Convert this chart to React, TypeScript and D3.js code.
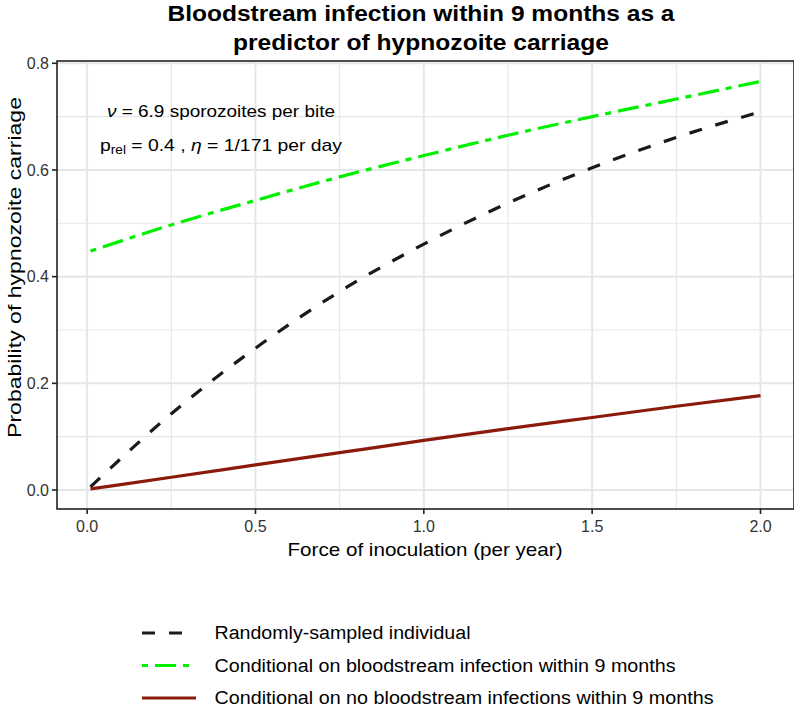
import React from "react";
import * as d3 from "d3";

const foi = [0.01, 0.25, 0.5, 0.75, 1.0, 1.25, 1.5, 1.75, 2.0];
const randomSampled = [0.006, 0.143, 0.266, 0.372, 0.461, 0.538, 0.604, 0.661, 0.709];
const condInfection = [0.448, 0.497, 0.543, 0.587, 0.627, 0.665, 0.7, 0.733, 0.766];
const condNoInfection = [0.002, 0.024, 0.047, 0.07, 0.093, 0.115, 0.136, 0.157, 0.177];

const xTicks = [0, 0.5, 1.0, 1.5, 2.0];
const xMinor = [0.25, 0.75, 1.25, 1.75];
const yTicks = [0, 0.2, 0.4, 0.6, 0.8];
const yMinor = [0.1, 0.3, 0.5, 0.7];

const titleLines = ["Bloodstream infection within 9 months as a", "predictor of hypnozoite carriage"];
const xTitle = "Force of inoculation (per year)";
const yTitle = "Probability of hypnozoite carriage";

const seriesNames = [
  "Randomly-sampled individual",
  "Conditional on bloodstream infection within 9 months",
  "Conditional on no bloodstream infections within 9 months",
];
const seriesColors = ["#1a1a1a", "#00f000", "#8b1a0a"];
const seriesDash = ["13,14", "6,7,21,7", null];

const FONT = "'Liberation Sans', Arial, Helvetica, sans-serif";

export default function App() {
  const panel = { left: 57, right: 794, top: 61, bottom: 509 };
  const x = d3.scaleLinear().domain([-0.0895, 2.0995]).range([panel.left, panel.right]);
  const y = d3.scaleLinear().domain([-0.0356, 0.8043]).range([panel.bottom, panel.top]);

  const allSeries = [randomSampled, condInfection, condNoInfection];
  const line = d3
    .line<number>()
    .x((_, i) => x(foi[i]))
    .y((d) => y(d))
    .curve(d3.curveMonotoneX);

  const fmt = d3.format(".1f");
  const gridColor = "#e4e7ea";
  const legendTextLen = [256, 461, 499];
  const titleLen = [507, 376];

  return (
    <svg
      width={794}
      height={726}
      style={{ position: "absolute", left: 0, top: 0, background: "#fff" }}
      fontFamily={FONT}
    >
      <defs>
        <clipPath id="panelClip">
          <rect x={panel.left} y={panel.top} width={panel.right - panel.left} height={panel.bottom - panel.top} />
        </clipPath>
      </defs>
      {/* title */}
      {titleLines.map((t, i) => (
        <text
          key={"title" + i}
          x={421}
          y={21 + i * 28.5}
          textAnchor="middle"
          fontSize={22}
          fontWeight="bold"
          fill="#000"
          textLength={titleLen[i]}
          lengthAdjust="spacingAndGlyphs"
        >
          {t}
        </text>
      ))}

      {/* grid */}
      <g>
        {xMinor.map((t) => (
          <line key={"xm" + t} x1={x(t)} x2={x(t)} y1={panel.top} y2={panel.bottom} stroke={gridColor} strokeWidth={1.1} />
        ))}
        {yMinor.map((t) => (
          <line key={"ym" + t} y1={y(t)} y2={y(t)} x1={panel.left} x2={panel.right} stroke={gridColor} strokeWidth={1.1} />
        ))}
        {xTicks.map((t) => (
          <line key={"xg" + t} x1={x(t)} x2={x(t)} y1={panel.top} y2={panel.bottom} stroke={gridColor} strokeWidth={2} />
        ))}
        {yTicks.map((t) => (
          <line key={"yg" + t} y1={y(t)} y2={y(t)} x1={panel.left} x2={panel.right} stroke={gridColor} strokeWidth={2} />
        ))}
      </g>

      {/* series */}
      <g clipPath="url(#panelClip)">
        {allSeries.map((s, i) => (
          <path
            key={i}
            d={line(s) || ""}
            fill="none"
            stroke={seriesColors[i]}
            strokeWidth={3.2}
            strokeDasharray={seriesDash[i] || undefined}
          />
        ))}
      </g>

      {/* annotation */}
      <text x={221} y={117} textAnchor="middle" fontSize={17} fill="#000" textLength={228} lengthAdjust="spacingAndGlyphs">
        <tspan fontStyle="italic">ν</tspan> = 6.9 sporozoites per bite
      </text>
      <text x={221} y={151} textAnchor="middle" fontSize={17} fill="#000" textLength={242} lengthAdjust="spacingAndGlyphs">
        p<tspan fontSize={12} dy={3}>rel</tspan>
        <tspan dy={-3}> = 0.4 ,  </tspan>
        <tspan fontStyle="italic">η</tspan> = 1/171 per day
      </text>

      {/* panel border */}
      <rect
        x={panel.left}
        y={panel.top}
        width={panel.right - panel.left}
        height={panel.bottom - panel.top}
        fill="none"
        stroke="#222"
        strokeWidth={1.6}
      />

      {/* y axis ticks */}
      {yTicks.map((t) => (
        <g key={"yt" + t}>
          <line x1={panel.left - 5} x2={panel.left} y1={y(t)} y2={y(t)} stroke="#222" strokeWidth={1.6} />
          <text x={panel.left - 8} y={y(t)} dy="0.36em" textAnchor="end" fontSize={16} fill="#333">
            {fmt(t)}
          </text>
        </g>
      ))}
      {/* x axis ticks */}
      {xTicks.map((t) => (
        <g key={"xt" + t}>
          <line x1={x(t)} x2={x(t)} y1={panel.bottom} y2={panel.bottom + 5} stroke="#222" strokeWidth={1.6} />
          <text x={x(t)} y={panel.bottom + 23} textAnchor="middle" fontSize={16} fill="#333">
            {fmt(t)}
          </text>
        </g>
      ))}

      {/* axis titles */}
      <text x={425} y={556} textAnchor="middle" fontSize={19} fill="#000" textLength={275} lengthAdjust="spacingAndGlyphs">
        {xTitle}
      </text>
      <text
        transform="translate(21,267.5) rotate(-90)"
        textAnchor="middle"
        fontSize={19}
        fill="#000"
        textLength={341}
        lengthAdjust="spacingAndGlyphs"
      >
        {yTitle}
      </text>

      {/* legend */}
      {seriesNames.map((name, i) => {
        const cy = 633 + i * 32.5;
        return (
          <g key={"lg" + i}>
            <line
              x1={142}
              x2={196}
              y1={cy}
              y2={cy}
              stroke={seriesColors[i]}
              strokeWidth={3.2}
              strokeDasharray={seriesDash[i] || undefined}
            />
            <text
              x={214.5}
              y={cy}
              dy="0.36em"
              fontSize={18}
              fill="#000"
              textLength={legendTextLen[i]}
              lengthAdjust="spacingAndGlyphs"
            >
              {name}
            </text>
          </g>
        );
      })}
    </svg>
  );
}
